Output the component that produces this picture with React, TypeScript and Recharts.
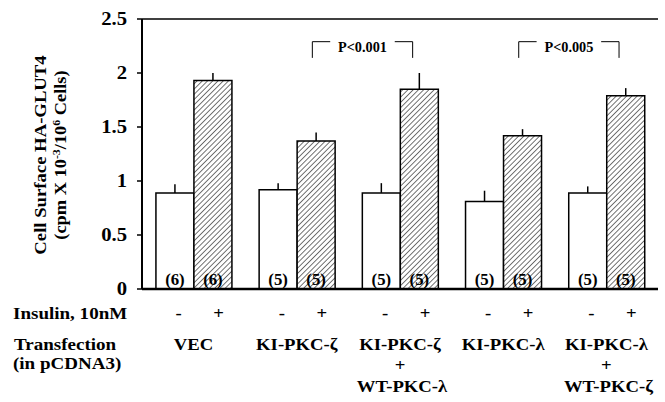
import React from 'react'
import { BarChart, Bar, XAxis, YAxis, ErrorBar, LabelList, ReferenceLine } from 'recharts'

// transfection groups, basal (-) and insulin (+) bars
const categories = ['VEC', 'KI-PKC-ζ', 'KI-PKC-ζ + WT-PKC-λ', 'KI-PKC-λ', 'KI-PKC-λ + WT-PKC-ζ']
const groupLines = [['VEC'], ['KI-PKC-ζ'], ['KI-PKC-ζ', '+', 'WT-PKC-λ'], ['KI-PKC-λ'], ['KI-PKC-λ', '+', 'WT-PKC-ζ']]
const basal = [0.89, 0.92, 0.89, 0.81, 0.89]
const basalErr = [0.08, 0.06, 0.09, 0.1, 0.06]
const insulin = [1.93, 1.37, 1.85, 1.42, 1.79]
const insulinErr = [0.07, 0.08, 0.15, 0.06, 0.07]
const basalN = [6, 5, 5, 5, 5]
const insulinN = [6, 5, 5, 5, 5]
const yTicks = [0, 0.5, 1, 1.5, 2, 2.5]

// significance brackets between insulin bars of group `start` and the next group
const brackets = [
  { start: 1, y: 2.29, drop: 2.14, text: 'P<0.001' },
  { start: 3, y: 2.29, drop: 2.14, text: 'P<0.005' },
]

const data = categories.map((name, i) => ({
  name,
  basal: basal[i],
  basalErr: [0, basalErr[i]],
  insulin: insulin[i],
  insulinErr: [0, insulinErr[i]],
  basalN: basalN[i],
  insulinN: insulinN[i],
}))

const FONT = 'Liberation Serif'
const GAP = 0.135

const SText = ({ x, y, sx = 1.1, anchor = 'start', children, ...rest }: any) => (
  <text transform={`translate(${x} ${y}) scale(${sx} 1)`} textAnchor={anchor} {...rest}>
    {children}
  </text>
)

const CountLabel = (props: any) => {
  const { x, y, width, height, value } = props
  return (
    <SText x={x + width / 2} y={y + height - 4} anchor="middle" sx={1.05} fontFamily={FONT} fontWeight={700} fontSize={16} fill="#000">
      {`(${value})`}
    </SText>
  )
}

// bracket drawn from the bar geometry: px per unit from the bar itself, band from bar width
const Bracket = (props: any) => {
  const { x, y, width, height, value, index } = props
  const b = brackets.find((br) => br.start === index)
  if (!b) return null
  const base = y + height
  const k = height / value
  const band = (2 * width) / (1 - 2 * GAP)
  const x1 = x + 0.4 * width
  const x2 = x + band + 0.3 * width
  const mid = (x1 + x2) / 2
  const half = 0.31 * band
  const yl = base - b.y * k
  const yd = base - b.drop * k
  return (
    <g stroke="#000" strokeWidth={1} fill="none">
      <polyline points={`${x1},${yd} ${x1},${yl} ${mid - half},${yl}`} />
      <polyline points={`${mid + half},${yl} ${x2},${yl} ${x2},${yd}`} />
      <SText x={mid} y={yl + 10} anchor="middle" sx={1.02} stroke="none" fill="#000" fontFamily={FONT} fontWeight={700} fontSize={14}>
        {b.text}
      </SText>
    </g>
  )
}

const YTick = (props: any) => {
  const { x, y, payload } = props
  return (
    <SText x={x} y={y + 6} anchor="end" sx={1.15} fontFamily={FONT} fontWeight={700} fontSize={18} fill="#000">
      {String(payload.value)}
    </SText>
  )
}

const GroupTick = (props: any) => {
  const { x, y, payload } = props
  const lines = groupLines[payload.index] || []
  return (
    <g fontFamily={FONT} fontWeight={700} fontSize={17} fill="#000">
      <SText x={x - 15} y={y + 30} anchor="middle">-</SText>
      <SText x={x + 25} y={y + 30} anchor="middle">+</SText>
      {lines.map((l, k) => (
        <SText key={k} x={x + (k === 2 ? 2 : 0)} y={y + 61 + k * 21} anchor="middle">{l}</SText>
      ))}
    </g>
  )
}

const RowLabels = (props: any) => {
  const { viewBox } = props
  const y = viewBox.y
  return (
    <g fontFamily={FONT} fontWeight={700} fontSize={17} fill="#000">
      <SText x={13} y={y + 30} sx={1.12}>Insulin, 10nM</SText>
      <SText x={14} y={y + 61} sx={1.12}>Transfection</SText>
      <SText x={13} y={y + 80} sx={1.12}>(in pCDNA3)</SText>
    </g>
  )
}

const YLabel = (props: any) => {
  const { viewBox } = props
  const cy = viewBox.y + viewBox.height / 2 + 1
  return (
    <g fontFamily={FONT} fontWeight={700} fontSize={17} fill="#000" textAnchor="middle">
      <text transform={`translate(46 ${cy}) rotate(-90) scale(1.1 1)`}>Cell Surface HA-GLUT4</text>
      <text transform={`translate(66 ${cy}) rotate(-90) scale(1.08 1)`}>
        (cpm X 10<tspan dy={-6} fontSize={11}>-3</tspan>
        <tspan dy={6}>/10</tspan>
        <tspan dy={-6} fontSize={11}>6</tspan>
        <tspan dy={6}> Cells)</tspan>
      </text>
    </g>
  )
}

export default function App() {
  return (
    <div style={{ position: 'absolute', left: 0, top: 0, background: '#fff' }}>
      <BarChart
        width={665}
        height={402}
        data={data}
        margin={{ top: 19, right: 7, bottom: 0, left: 0 }}
        barCategoryGap={`${GAP * 100}%`}
        barGap={0}
      >
        <defs>
          <pattern id="hatch" patternUnits="userSpaceOnUse" width={3.7} height={3.7} patternTransform="rotate(45)">
            <rect width={3.7} height={3.7} fill="#fff" />
            <line x1={0} y1={0} x2={0} y2={3.7} stroke="#000" strokeWidth={1.1} />
          </pattern>
        </defs>
        <XAxis
          dataKey="name"
          height={113}
          tickLine={false}
          tickSize={0}
          tickMargin={0}
          interval={0}
          axisLine={{ stroke: '#000', strokeWidth: 2.5 }}
          tick={<GroupTick />}
          label={{ content: <RowLabels /> }}
        />
        <YAxis
          width={142}
          domain={[0, 2.5]}
          ticks={yTicks}
          interval={0}
          tickSize={5}
          tickMargin={10}
          axisLine={{ stroke: '#000', strokeWidth: 2 }}
          tickLine={{ stroke: '#000', strokeWidth: 1.5 }}
          tick={<YTick />}
          label={{ content: <YLabel /> }}
        />
        <YAxis
          yAxisId="frame"
          orientation="right"
          width={0}
          domain={[0, 2.5]}
          tick={false}
          tickLine={false}
          axisLine={{ stroke: '#555', strokeWidth: 1.5 }}
        />
        <ReferenceLine y={2.5} stroke="#000" strokeWidth={1.5} />
        <Bar dataKey="basal" fill="#fff" stroke="#000" strokeWidth={1.5} isAnimationActive={false}>
          <ErrorBar dataKey="basalErr" width={0} stroke="#000" strokeWidth={1.5} />
          <LabelList dataKey="basalN" content={<CountLabel />} />
        </Bar>
        <Bar dataKey="insulin" fill="url(#hatch)" stroke="#000" strokeWidth={1.5} isAnimationActive={false}>
          <ErrorBar dataKey="insulinErr" width={0} stroke="#000" strokeWidth={1.5} />
          <LabelList dataKey="insulinN" content={<CountLabel />} />
          <LabelList dataKey="insulin" content={<Bracket />} />
        </Bar>
      </BarChart>
    </div>
  )
}
